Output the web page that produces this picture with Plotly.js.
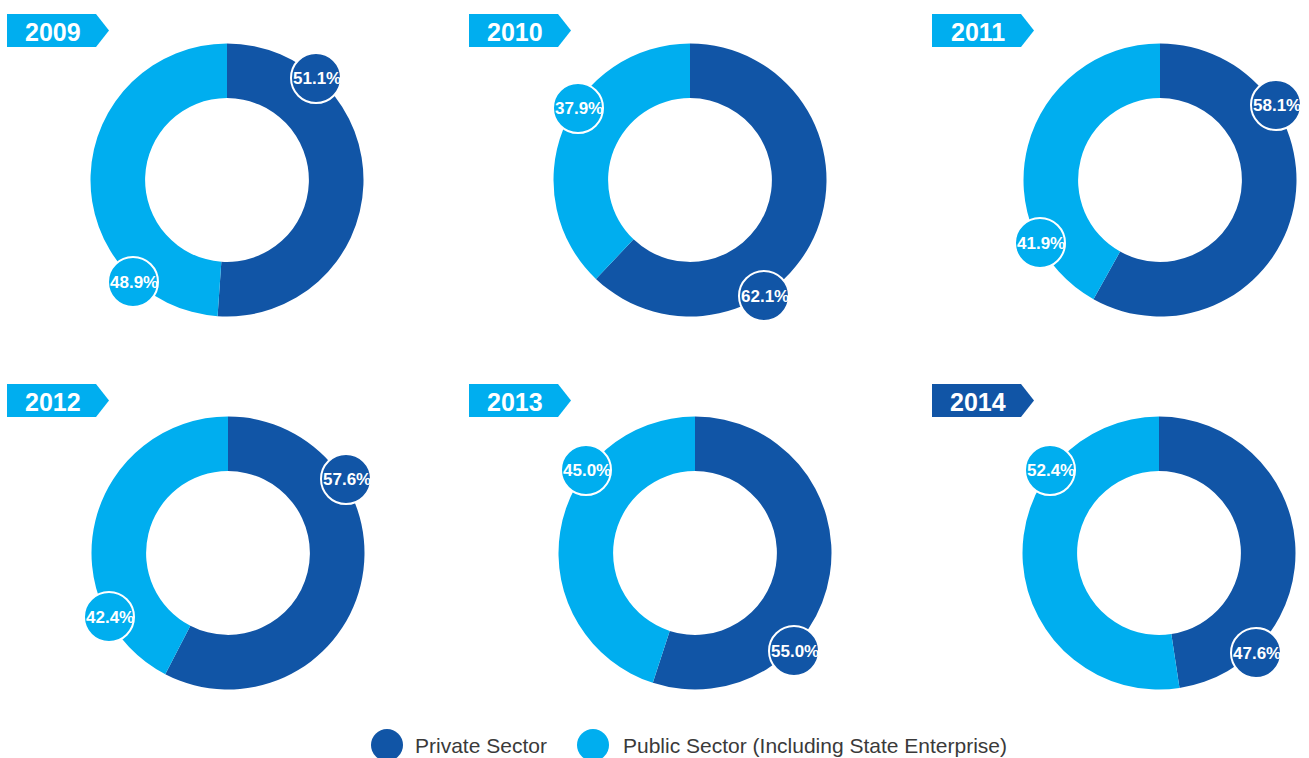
<!DOCTYPE html>
<html>
<head>
<meta charset="utf-8">
<script src="https://cdn.plot.ly/plotly-3.0.1.min.js"></script>
<style>html,body{margin:0;padding:0;background:#fff;}#chart{width:1309px;height:758px;}</style>
</head>
<body>
<div id="chart"></div>
<script>
// ---- data ----
const years = ['2009', '2010', '2011', '2012', '2013', '2014'];
const privateShare = [51.1, 62.1, 58.1, 57.6, 55.0, 47.6];
const publicShare = [48.9, 37.9, 41.9, 42.4, 45.0, 52.4];
const seriesNames = ['Private Sector', 'Public Sector (Including State Enterprise)'];

// ---- layout constants (pixels) ----
const W = 1309, H = 758;
const DARK = '#1155a6', LIGHT = '#00aeef';
const centers = [[227, 180], [690, 180], [1160, 180], [228, 553], [695, 553], [1159, 553]];
const R = 136.5;
// label circle positions [private, public]
const labelPos = [
  [[316, 78], [133, 282]],
  [[764, 296], [578, 108]],
  [[1276, 105], [1040, 243]],
  [[346, 479], [109, 617]],
  [[794, 651], [586, 470]],
  [[1256, 653], [1050, 470]]
];
const bannerPos = [[7, 14], [469, 14], [932, 14], [7, 384], [469, 384], [932, 384]];
const bannerColor = [LIGHT, LIGHT, LIGHT, LIGHT, LIGHT, DARK];

const traces = [];
const shapes = [];
const annotations = [];

years.forEach((yr, i) => {
  const [cx, cy] = centers[i];
  traces.push({
    type: 'pie',
    values: [privateShare[i], publicShare[i]],
    labels: seriesNames,
    sort: false,
    direction: 'clockwise',
    rotation: 0,
    hole: 0.6,
    textinfo: 'none',
    marker: {colors: [DARK, LIGHT], line: {width: 0}},
    showlegend: false,
    domain: {x: [(cx - R) / W, (cx + R) / W], y: [1 - (cy + R) / H, 1 - (cy - R) / H]},
    name: yr
  });
  // label circles
  const vals = [privateShare[i], publicShare[i]];
  const cols = [DARK, LIGHT];
  for (let k = 0; k < 2; k++) {
    const [lx, ly] = labelPos[i][k];
    const rr = 25;
    shapes.push({type: 'circle', xref: 'x', yref: 'y', x0: lx - rr, x1: lx + rr, y0: ly - rr, y1: ly + rr,
      fillcolor: cols[k], line: {color: '#ffffff', width: 2}, layer: 'above'});
    annotations.push({xref: 'x', yref: 'y', x: lx + 1, y: ly, text: vals[k].toFixed(1) + '%', showarrow: false,
      xanchor: 'center', yanchor: 'middle', font: {family: 'Liberation Sans, Arial, sans-serif', size: 17, color: '#ffffff', weight: 'bold'}});
  }
  // year banner
  const [bx, by] = bannerPos[i];
  const bw = 89, bh = 33, tip = 13;
  shapes.push({type: 'path', xref: 'x', yref: 'y', layer: 'above',
    path: `M${bx},${by} L${bx + bw},${by} L${bx + bw + tip},${by + bh / 2} L${bx + bw},${by + bh} L${bx},${by + bh} Z`,
    fillcolor: bannerColor[i], line: {width: 0}});
  annotations.push({xref: 'x', yref: 'y', x: bx + 46, y: by + bh / 2 + 1, text: yr, showarrow: false,
    xanchor: 'center', yanchor: 'middle', font: {family: 'Liberation Sans, Arial, sans-serif', size: 25, color: '#ffffff', weight: 'bold'}});
});

// legend
const legendItems = [[387, 745, DARK, 413], [593, 745, LIGHT, 621]];
legendItems.forEach((it, k) => {
  const [lx, ly, col, tx] = it;
  shapes.push({type: 'circle', xref: 'x', yref: 'y', x0: lx - 16, x1: lx + 16, y0: ly - 16, y1: ly + 16,
    fillcolor: col, line: {width: 0}, layer: 'above'});
  annotations.push({xref: 'x', yref: 'y', x: tx, y: ly, text: seriesNames[k], showarrow: false,
    xanchor: 'left', yanchor: 'middle', font: {family: 'Liberation Sans, Arial, sans-serif', size: 21, color: '#3a3a3a'}});
});

// invisible pixel-scaled overlay axes
traces.push({type: 'scatter', x: [0, W], y: [0, H], mode: 'markers', marker: {opacity: 0}, hoverinfo: 'skip', showlegend: false});

const layout = {
  width: W, height: H,
  margin: {l: 0, r: 0, t: 0, b: 0},
  paper_bgcolor: '#ffffff', plot_bgcolor: 'rgba(0,0,0,0)',
  showlegend: false,
  xaxis: {range: [0, W], visible: false, fixedrange: true},
  yaxis: {range: [H, 0], visible: false, fixedrange: true},
  shapes: shapes,
  annotations: annotations
};

Plotly.newPlot('chart', traces, layout, {displayModeBar: false, staticPlot: true});
</script>
</body>
</html>
